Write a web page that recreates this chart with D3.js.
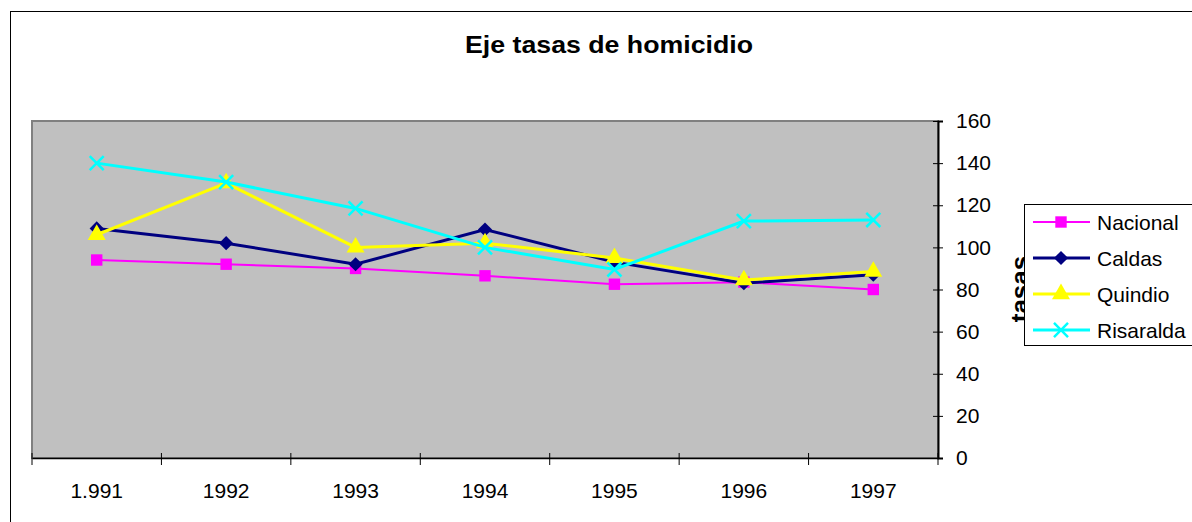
<!DOCTYPE html>
<html lang="es">
<head>
  <meta charset="UTF-8">
  <title>Eje tasas de homicidio</title>
  <script src="https://d3js.org/d3.v7.min.js"></script>
  <style>
    body { margin: 0; background: #fff; }
    text { font-family: "Liberation Sans", Arial, sans-serif; fill: #000; }
    .axis .domain { stroke: #000; }
    .axis line { stroke: #000; }
  </style>
</head>
<body>
  <svg id="chart" width="1192" height="522"></svg>
  <script>
    // datos
    const years = ["1.991", "1992", "1993", "1994", "1995", "1996", "1997"];
    const nacional = [94, 92, 90, 86.5, 82.5, 83.5, 80];
    const caldas = [109, 102, 92, 108.5, 93, 83, 87];
    const quindio = [106, 130.5, 100, 102, 95, 84.5, 88.5];
    const risaralda = [140, 131, 118.5, 100, 89.5, 112.5, 113];
    const yTicks = [0, 20, 40, 60, 80, 100, 120, 140, 160];

    const series = [
      { name: "Nacional", values: nacional, color: "#ff00ff", width: 2, symbol: d3.symbolSquare, size: 130, rot: 0 },
      { name: "Caldas", values: caldas, color: "#000080", width: 3, symbol: d3.symbolSquare, size: 100, rot: 45 },
      { name: "Quindio", values: quindio, color: "#ffff00", width: 3, symbol: d3.symbolTriangle, size: 140, rot: 0 },
      { name: "Risaralda", values: risaralda, color: "#00ffff", width: 3, symbol: d3.symbolX, size: 130, rot: 0 }
    ];

    const svg = d3.select("#chart");
    const plot = { left: 32, top: 121, right: 938, bottom: 458 };

    // marco exterior
    svg.append("rect")
      .attr("x", 10.5).attr("y", 11.5)
      .attr("width", 1200).attr("height", 600)
      .attr("fill", "none").attr("stroke", "#000").attr("stroke-width", 1);

    // titulo
    svg.append("text")
      .attr("x", 465).attr("y", 53)
      .attr("font-size", "24px").attr("font-weight", "bold")
      .attr("textLength", 288).attr("lengthAdjust", "spacingAndGlyphs")
      .text("Eje tasas de homicidio");

    const xScale = d3.scaleBand().domain(years).range([plot.left, plot.right]);
    const yScale = d3.scaleLinear().domain([0, 160]).range([plot.bottom, plot.top]);

    // area de trazado
    svg.append("rect")
      .attr("x", plot.left).attr("y", plot.top)
      .attr("width", plot.right - plot.left).attr("height", plot.bottom - plot.top)
      .attr("fill", "#c0c0c0").attr("stroke", "#808080").attr("stroke-width", 2);

    // eje y a la derecha
    const rightAxis = d3.axisRight(yScale).tickValues(yTicks).tickSize(5).tickPadding(13);
    const gy = svg.append("g").attr("class", "axis")
      .attr("transform", `translate(${plot.right},0)`)
      .call(rightAxis);
    gy.select(".domain").attr("stroke", "#808080").attr("stroke-width", 2);
    gy.selectAll(".tick line").attr("x1", -5).attr("stroke", "#333");
    gy.selectAll("text").attr("font-size", "21px").attr("font-family", "Liberation Sans, Arial, sans-serif");

    // eje x
    const bottomAxis = d3.axisBottom(xScale).tickSize(0).tickPadding(25);
    const gx = svg.append("g").attr("class", "axis")
      .attr("transform", `translate(0,${plot.bottom})`)
      .call(bottomAxis);
    gx.select(".domain").attr("stroke-width", 1.5);
    gx.selectAll("text").attr("font-size", "21px").attr("font-family", "Liberation Sans, Arial, sans-serif");
    // marcas entre categorias
    const bounds = years.map(d => xScale(d)).concat([plot.right]);
    gx.selectAll("line.sep").data(bounds).join("line").attr("class", "sep")
      .attr("x1", d => d).attr("x2", d => d)
      .attr("y1", -5).attr("y2", 7)
      .attr("stroke", "#333");

    const cx = d => xScale(d) + xScale.bandwidth() / 2;
    const line = d3.line().x(d => cx(d.year)).y(d => yScale(d.v));

    series.forEach(s => {
      const pts = years.map((y, i) => ({ year: y, v: s.values[i] }));
      svg.append("path").datum(pts)
        .attr("d", line)
        .attr("fill", "none")
        .attr("stroke", s.color)
        .attr("stroke-width", s.width);
      svg.append("g").selectAll("path").data(pts).join("path")
        .attr("d", d3.symbol().type(s.symbol).size(s.size))
        .attr("transform", d => `translate(${cx(d.year)},${yScale(d.v)}) rotate(${s.rot})`)
        .attr("fill", s.symbol === d3.symbolX ? "none" : s.color)
        .attr("stroke", s.color)
        .attr("stroke-width", s.symbol === d3.symbolX ? 2.5 : 0);
    });

    // titulo del eje y
    svg.append("text")
      .attr("transform", "translate(1029,289) rotate(-90)")
      .attr("text-anchor", "middle")
      .attr("font-size", "26px").attr("font-weight", "bold")
      .text("tasas");

    // leyenda
    const legend = svg.append("g");
    legend.append("rect")
      .attr("x", 1024.5).attr("y", 204.5)
      .attr("width", 200).attr("height", 141)
      .attr("fill", "#fff").attr("stroke", "#000").attr("stroke-width", 1);
    series.forEach((s, i) => {
      const y = 222 + i * 36;
      legend.append("line")
        .attr("x1", 1033).attr("x2", 1090).attr("y1", y).attr("y2", y)
        .attr("stroke", s.color).attr("stroke-width", s.width);
      legend.append("path")
        .attr("d", d3.symbol().type(s.symbol).size(s.size)())
        .attr("transform", `translate(1061,${y}) rotate(${s.rot})`)
        .attr("fill", s.symbol === d3.symbolX ? "none" : s.color)
        .attr("stroke", s.color)
        .attr("stroke-width", s.symbol === d3.symbolX ? 2.5 : 0);
      legend.append("text")
        .attr("x", 1097).attr("y", y + 8)
        .attr("font-size", "21px")
        .text(s.name);
    });
  </script>
</body>
</html>
